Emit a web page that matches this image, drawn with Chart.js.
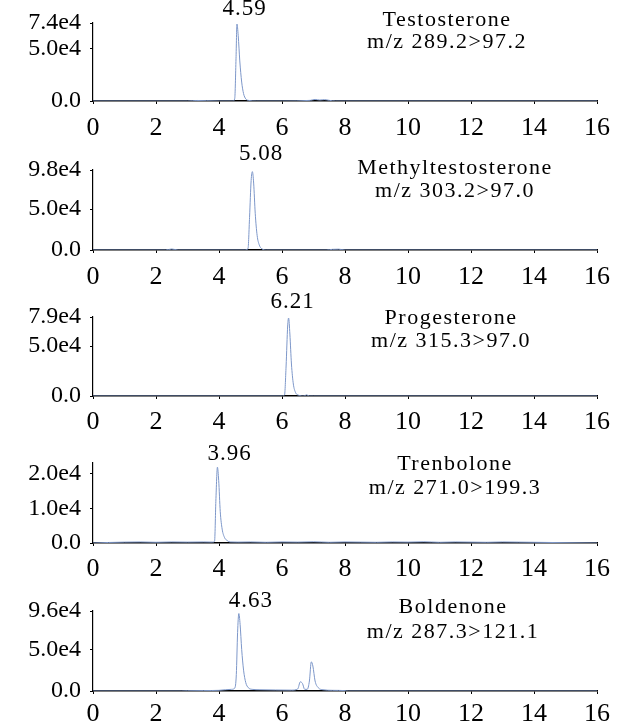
<!DOCTYPE html>
<html><head><meta charset="utf-8">
<script src="https://cdn.jsdelivr.net/npm/chart.js@4/dist/chart.umd.min.js"></script>
<style>
html,body{margin:0;padding:0;background:#fff;width:636px;height:726px;overflow:hidden;position:relative}
.p{position:absolute;left:0;width:636px;height:156px}
canvas{display:block}
</style></head><body>
<div class="p" style="top:-20px"><canvas id="c0" width="636" height="156"></canvas></div>
<div class="p" style="top:129px"><canvas id="c1" width="636" height="156"></canvas></div>
<div class="p" style="top:275px"><canvas id="c2" width="636" height="156"></canvas></div>
<div class="p" style="top:422px"><canvas id="c3" width="636" height="156"></canvas></div>
<div class="p" style="top:570px"><canvas id="c4" width="636" height="156"></canvas></div>
<script>
// ---- data ----
const xTickValues = [0, 2, 4, 6, 8, 10, 12, 14, 16];

const compoundNames = ['Testosterone', 'Methyltestosterone', 'Progesterone', 'Trenbolone', 'Boldenone'];
const transitions = ['m/z 289.2>97.2', 'm/z 303.2>97.0', 'm/z 315.3>97.0', 'm/z 271.0>199.3', 'm/z 287.3>121.1'];
const peakLabels = ['4.59', '5.08', '6.21', '3.96', '4.63'];
const peakTimes = [4.59, 5.08, 6.21, 3.96, 4.63];

const yMaxValues = [74000, 98000, 79000, 23000, 96000];
const yTickValues = [[0, 50000, 74000], [0, 50000, 98000], [0, 50000, 79000], [0, 10000, 20000], [0, 50000, 96000]];
const yTickLabels = [['0.0', '5.0e4', '7.4e4'], ['0.0', '5.0e4', '9.8e4'], ['0.0', '5.0e4', '7.9e4'], ['0.0', '1.0e4', '2.0e4'], ['0.0', '5.0e4', '9.6e4']];

const testosteroneTime = [0, 3.0, 3.3, 3.6, 4.0, 4.45, 4.50, 4.54, 4.57, 4.61, 4.66, 4.72, 4.78, 4.85, 4.95, 5.2, 6.0, 6.9, 7.05, 7.2, 7.35, 7.5, 7.7, 8.0, 16];
const testosteroneInt  = [0, 0, 500, 300, 0, 0, 2500, 40000, 73000, 62000, 38000, 18000, 7000, 2000, 500, 0, 0, 600, 1500, 900, 1300, 600, 0, 0, 0];

const methylTime = [0, 2.3, 2.5, 2.7, 4.8, 4.92, 4.97, 5.02, 5.06, 5.10, 5.15, 5.21, 5.28, 5.36, 5.5, 7.4, 7.6, 7.8, 8.0, 16];
const methylInt  = [0, 0, 1200, 0, 0, 1500, 40000, 85000, 96000, 82000, 45000, 18000, 6000, 1500, 0, 0, 800, 1000, 0, 0];

const progesteroneTime = [0, 6.0, 6.08, 6.13, 6.18, 6.21, 6.25, 6.30, 6.36, 6.43, 6.52, 6.7, 6.78, 6.86, 7.0, 16];
const progesteroneInt  = [0, 0, 1000, 30000, 70000, 78000, 62000, 32000, 12000, 3500, 800, 0, 1200, 0, 0, 0];

const trenboloneTime = [0, 0.5, 1, 1.5, 2, 2.5, 3, 3.5, 3.8, 3.86, 3.90, 3.95, 3.99, 4.04, 4.10, 4.18, 4.26, 4.35, 4.6, 5, 5.5, 6, 6.5, 7, 7.5, 8, 8.5, 9, 9.5, 10, 10.5, 11, 11.5, 12, 12.5, 13, 13.5, 14, 16];
const trenboloneInt  = [0, 150, 250, 300, 200, 300, 250, 300, 250, 500, 12000, 21800, 18000, 9000, 4000, 1500, 700, 300, 250, 300, 200, 300, 250, 350, 200, 300, 250, 200, 300, 250, 350, 200, 300, 250, 200, 300, 250, 200, 0];

const boldenoneTime = [0, 2.8, 3.0, 3.5, 4.0, 4.2, 4.4, 4.5, 4.55, 4.59, 4.63, 4.67, 4.72, 4.78, 4.85, 4.93, 5.05, 5.3, 5.8, 6.3, 6.5, 6.58, 6.65, 6.72, 6.8, 6.87, 6.93, 6.98, 7.05, 7.15, 7.3, 7.6, 8.0, 8.1, 16];
const boldenoneInt  = [0, 0, 300, 500, 800, 1500, 2000, 3500, 20000, 70000, 93000, 80000, 50000, 25000, 10000, 4000, 2000, 1500, 1200, 1000, 2500, 11000, 9000, 2000, 2000, 12000, 35000, 30000, 12000, 4000, 1500, 800, 500, 0, 0];

const seriesTimes = [testosteroneTime, methylTime, progesteroneTime, trenboloneTime, boldenoneTime];
const seriesInts = [testosteroneInt, methylInt, progesteroneInt, trenboloneInt, boldenoneInt];

// ---- layout (pixels) ----
const CANVAS_H = 156, AXIS_BOTTOM = 121;
const plotTops = [43, 41, 42, 41, 41];
const xTickPad = [9, 9, 8, 8, 5];
const titleX = [447, 455, 451, 455, 453];
const titleDy1 = [-3, -2, 1, 1, -4];
const titleDy2 = [19, 21, 24, 25, 21];
const peakDx = [7, 8, 4, 12, 12];
const peakDy = [-14, -16, -15, -9, -10];

const SERIF = 'Liberation Serif';

const annotPlugin = {
  id: 'annot',
  afterDraw(chart, args, o) {
    const ctx = chart.ctx, xs = chart.scales.x, ys = chart.scales.y;
    ctx.save();
    ctx.fillStyle = '#000';
    ctx.textAlign = 'center';
    ctx.textBaseline = 'middle';
    ctx.font = '23px "Liberation Serif"';
    ctx.letterSpacing = '1px';
    ctx.fillText(o.peak, xs.getPixelForValue(o.peakTime) + o.peakDx, ys.top + o.peakDy);
    ctx.font = '22px "Liberation Serif"';
    ctx.letterSpacing = '1.5px';
    ctx.fillText(o.name, o.tx, ys.top + o.t1);
    ctx.fillText(o.trans, o.tx, ys.top + o.t2);
    ctx.restore();
  }
};

for (let i = 0; i < 5; i++) {
  const pts = seriesTimes[i].map((t, k) => ({x: t, y: seriesInts[i][k]}));
  const ticksY = yTickValues[i], labelsY = yTickLabels[i];
  new Chart(document.getElementById('c' + i), {
    type: 'line',
    data: {datasets: [{data: pts, borderColor: '#7d97c9', borderWidth: 1, pointRadius: 0, cubicInterpolationMode: 'monotone', fill: false}]},
    options: {
      responsive: false, animation: false, devicePixelRatio: 1,
      layout: {padding: {top: plotTops[i], right: 39, left: 0, bottom: 0}},
      plugins: {
        legend: {display: false}, tooltip: {enabled: false}, title: {display: false},
        annot: {peak: peakLabels[i], peakTime: peakTimes[i], peakDx: peakDx[i], peakDy: peakDy[i],
                name: compoundNames[i], trans: transitions[i], tx: titleX[i], t1: titleDy1[i], t2: titleDy2[i]}
      },
      scales: {
        x: {
          type: 'linear', min: 0, max: 16, z: 1,
          afterBuildTicks: s => { s.ticks = xTickValues.map(v => ({value: v})); },
          afterFit: s => { s.height = CANVAS_H - AXIS_BOTTOM; },
          grid: {display: true, drawOnChartArea: false, tickLength: 3, color: '#000'},
          border: {display: true, color: '#000', width: 1.5},
          ticks: {font: {family: SERIF, size: 26}, color: '#000', padding: xTickPad[i], maxRotation: 0, autoSkip: false,
                  callback: v => String(v)}
        },
        y: {
          type: 'linear', min: 0, max: yMaxValues[i],
          afterBuildTicks: s => { s.ticks = ticksY.map(v => ({value: v})); },
          afterFit: s => { s.width = 93; },
          grid: {display: true, drawOnChartArea: false, tickLength: 3, color: '#000'},
          border: {display: true, color: '#000', width: 1.2},
          ticks: {font: {family: SERIF, size: 24}, color: '#000', padding: 9, autoSkip: false,
                  callback: v => labelsY[ticksY.indexOf(v)]}
        }
      }
    },
    plugins: [annotPlugin]
  });
}
</script>
</body></html>
